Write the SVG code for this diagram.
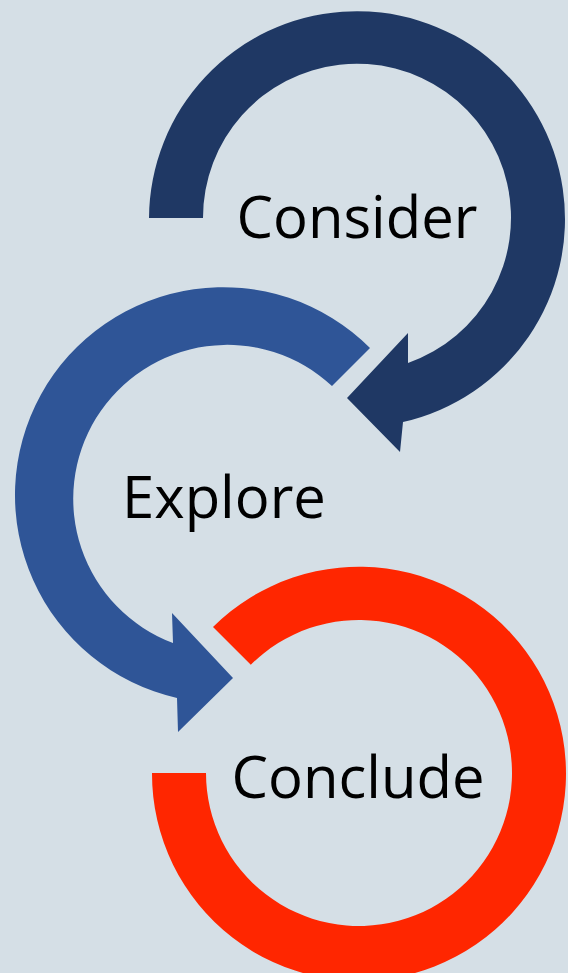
<svg xmlns="http://www.w3.org/2000/svg" width="568" height="973" viewBox="0 0 568 973">
<style>
.lbl{font-family:"Open Sans","Noto Sans","DejaVu Sans",sans-serif;font-size:58px;fill:#000;text-anchor:middle}
.c1{fill:#1f3864}
.c2{fill:#2f5597}
.c3{fill:#ff2600}
</style>
<rect width="568" height="973" fill="#d5dfe6"/>
<g id="consider">
<path class="c1" d="M149,218 A208,208 0 1 1 403,422 L400,452 L347,398 L408,333 L408,363 A154,154 0 1 0 203,218 Z"/>
<text class="lbl" x="357" y="238">Consider</text>
</g>
<g id="explore">
<path class="c2" d="M370,348 A208,208 0 1 0 177,698 L178,732 L233,678 L172,613 L173,643 A154,154 0 1 1 332,386 Z"/>
<text class="lbl" x="224" y="518">Explore</text>
</g>
<g id="conclude">
<path class="c3" d="M213,627 A207,207 0 1 1 152,773 L206,773 A153,153 0 1 0 250.8,664.8 Z"/>
<text class="lbl" x="358" y="798">Conclude</text>
</g>
</svg>
